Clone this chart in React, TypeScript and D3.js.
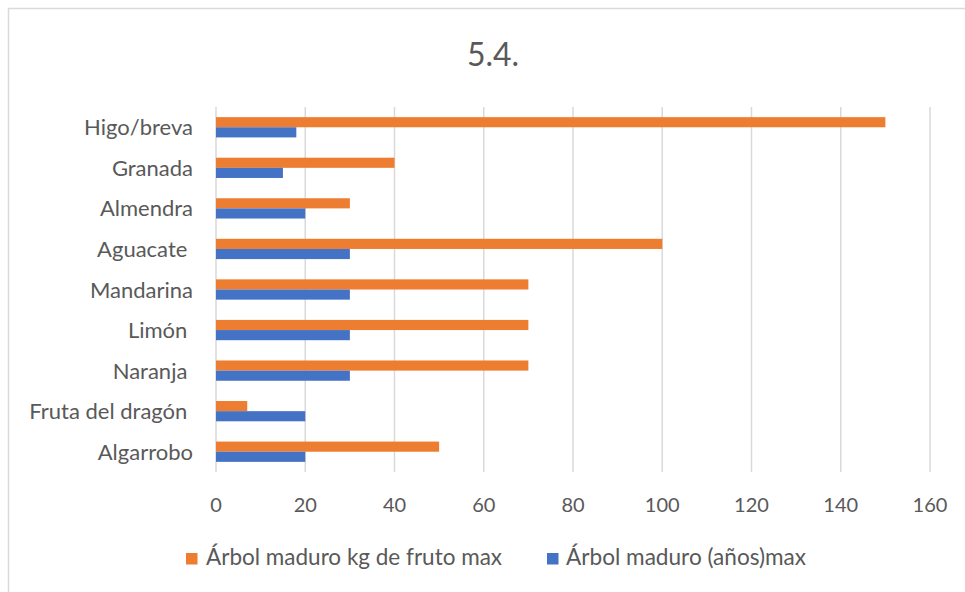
import React from "react";
import * as d3 from "d3";

const categories = [
  "Higo/breva",
  "Granada",
  "Almendra",
  "Aguacate ",
  "Mandarina",
  "Limón ",
  "Naranja ",
  "Fruta del dragón ",
  "Algarrobo",
];
const kgFruto = [150, 40, 30, 100, 70, 70, 70, 7, 50];
const anosMax = [18, 15, 20, 30, 30, 30, 30, 20, 20];
const xTicks = [0, 20, 40, 60, 80, 100, 120, 140, 160];
const seriesNames = ["Árbol maduro kg de fruto max", "Árbol maduro (años)max"];
const title = "5.4.";

const ORANGE = "#ED7D31";
const BLUE = "#4472C4";
const GRID = "#D9D9D9";
const TEXT = "#595959";
const FONT = "Lato, 'Open Sans', sans-serif";

export default function App() {
  const W = 965;
  const H = 592;
  const x = d3.scaleLinear().domain([0, 160]).range([216, 930]);
  const y = d3.scaleBand<string>().domain(categories).range([107, 472]).padding(0);
  const step = y.step();
  const barH = step / 4;

  return (
    <svg
      width={W}
      height={H}
      style={{ position: "absolute", left: 0, top: 0, background: "#fff" }}
      fontFamily={FONT}
    >
      <rect x={0} y={0} width={W} height={H} fill="#fff" />
      <rect x={8.5} y={8.5} width={1100} height={800} fill="none" stroke={GRID} strokeWidth={1.5} />
      <text x={493} y={66} textAnchor="middle" fontSize={32} fill={TEXT}>
        {title}
      </text>
      {xTicks.map((t) => (
        <line key={"g" + t} x1={x(t)} x2={x(t)} y1={107} y2={472} stroke={GRID} strokeWidth={1.5} />
      ))}
      {categories.map((c, i) => {
        const y0 = y(c) as number;
        return (
          <g key={c}>
            <rect x={x(0)} y={y0 + barH} width={x(kgFruto[i]) - x(0)} height={barH} fill={ORANGE} />
            <rect x={x(0)} y={y0 + 2 * barH} width={x(anosMax[i]) - x(0)} height={barH} fill={BLUE} />
            <text
              x={193}
              y={y0 + step / 2 + 8}
              textAnchor="end"
              fontSize={22}
              fill={TEXT}
              style={{ whiteSpace: "pre" }}
            >
              {c}
            </text>
          </g>
        );
      })}
      {xTicks.map((t) => (
        <text key={"t" + t} x={x(t)} y={512} textAnchor="middle" fontSize={20} fill={TEXT}>
          {t}
        </text>
      ))}
      <rect x={186} y={553} width={11.5} height={11.5} fill={ORANGE} />
      <text x={206} y={565} fontSize={22.5} fill={TEXT}>
        {seriesNames[0]}
      </text>
      <rect x={547} y={553} width={11.5} height={11.5} fill={BLUE} />
      <text x={566} y={565} fontSize={22.6} fill={TEXT}>
        {seriesNames[1]}
      </text>
    </svg>
  );
}
